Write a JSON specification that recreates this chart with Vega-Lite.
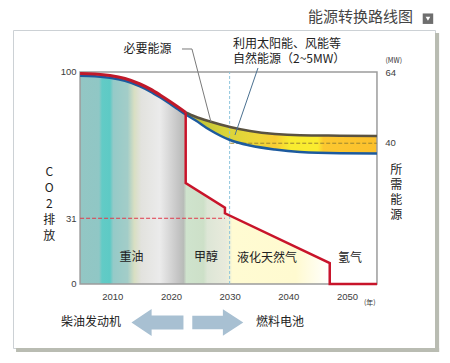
{
  "$schema": "https://vega.github.io/schema/vega-lite/v6.json",
  "width": 422,
  "height": 318,
  "autosize": {"type": "none"},
  "padding": {"left": 13, "top": 30, "right": 15, "bottom": 15},
  "background": "white",
  "config": {
    "view": {"stroke": "#ccd1d5", "strokeWidth": 1},
    "font": "Liberation Sans",
    "axis": {"grid": false, "ticks": false, "domain": false, "labelFont": "Liberation Sans", "labelFontSize": 9.5, "labelColor": "#3c3c3c", "labelOverlap": false}
  },
  "datasets": {
    "shadow": [
      {"x": 2065.0, "x2": 2065.7, "y": 118.4, "y2": -32.08},
      {"x": 1993.6, "x2": 2065.7, "y": -30.19, "y2": -32.08}
    ],
    "fill": [
      {"x": 2004.51, "y": 98.2},
      {"x": 2007.05, "y": 97.98},
      {"x": 2009.61, "y": 97.27},
      {"x": 2012.16, "y": 95.85},
      {"x": 2014.72, "y": 93.26},
      {"x": 2016.43, "y": 90.9},
      {"x": 2018.13, "y": 88.07},
      {"x": 2019.83, "y": 85.0},
      {"x": 2021.2, "y": 82.41},
      {"x": 2022.5, "y": 79.95},
      {"x": 2022.52, "y": 47.6},
      {"x": 2029.2, "y": 36.0},
      {"x": 2029.22, "y": 33.35},
      {"x": 2047.06, "y": 9.9},
      {"x": 2047.08, "y": 0}
    ],
    "band": [
      {"x": 2022.51, "y": 79.95, "y2": 80.9},
      {"x": 2024.09, "y": 77.36, "y2": 79.01},
      {"x": 2026.65, "y": 72.64, "y2": 76.65},
      {"x": 2030.06, "y": 67.92, "y2": 74.06},
      {"x": 2033.47, "y": 65.33, "y2": 72.17},
      {"x": 2037.73, "y": 63.44, "y2": 70.75},
      {"x": 2041.99, "y": 62.26, "y2": 70.14},
      {"x": 2048.8, "y": 61.65, "y2": 69.95},
      {"x": 2055.11, "y": 61.56, "y2": 69.81}
    ],
    "blue": [
      {"x": 2004.51, "y": 98.2},
      {"x": 2007.05, "y": 97.98},
      {"x": 2009.61, "y": 97.27},
      {"x": 2012.16, "y": 95.85},
      {"x": 2014.72, "y": 93.26},
      {"x": 2016.43, "y": 90.9},
      {"x": 2018.13, "y": 88.07},
      {"x": 2019.83, "y": 85.0},
      {"x": 2021.2, "y": 82.41},
      {"x": 2022.51, "y": 79.95},
      {"x": 2024.09, "y": 77.36},
      {"x": 2026.65, "y": 72.64},
      {"x": 2030.06, "y": 67.92},
      {"x": 2033.47, "y": 65.33},
      {"x": 2037.73, "y": 63.44},
      {"x": 2041.99, "y": 62.26},
      {"x": 2048.8, "y": 61.65},
      {"x": 2055.11, "y": 61.56}
    ],
    "upper": [
      {"x": 2022.51, "y": 80.9},
      {"x": 2024.09, "y": 79.01},
      {"x": 2026.65, "y": 76.65},
      {"x": 2030.06, "y": 74.06},
      {"x": 2033.47, "y": 72.17},
      {"x": 2037.73, "y": 70.75},
      {"x": 2041.99, "y": 70.14},
      {"x": 2048.8, "y": 69.95},
      {"x": 2055.11, "y": 69.81}
    ],
    "redcurve": [
      {"x": 2004.51, "y": 99.29},
      {"x": 2007.05, "y": 99.06},
      {"x": 2009.61, "y": 98.35},
      {"x": 2012.16, "y": 96.93},
      {"x": 2014.72, "y": 94.34},
      {"x": 2016.43, "y": 91.98},
      {"x": 2018.13, "y": 89.15},
      {"x": 2019.83, "y": 86.08},
      {"x": 2021.2, "y": 83.49},
      {"x": 2022.51, "y": 80.9}
    ],
    "redsteps": [
      {"i": 1, "x": 2022.51, "y": 80.9},
      {"i": 2, "x": 2022.51, "y": 47.6},
      {"i": 3, "x": 2029.2, "y": 36.0},
      {"i": 4, "x": 2029.2, "y": 33.35},
      {"i": 5, "x": 2047.06, "y": 9.9},
      {"i": 6, "x": 2047.06, "y": 0},
      {"i": 7, "x": 2055.11, "y": 0}
    ],
    "frame": [{"x": 2004.51, "x2": 2055.11, "y": 0, "y2": 100}],
    "vline": [{"x": 2030.0, "y": 0, "y2": 100}],
    "co2line": [{"x": 2004.51, "x2": 2029.2, "y": 31}],
    "bandline": [{"x": 2030.1, "x2": 2055.11, "y": 66.4}],
    "leader1": [
      {"x": 2021.88, "y": 110.85, "x2": 2023.58, "y2": 110.85},
      {"x": 2023.58, "y": 110.85, "x2": 2026.82, "y2": 76.42}
    ],
    "leader2": [{"x": 2034.83, "y": 101.89, "x2": 2030.91, "y2": 70.28}],
    "labelsCenter": [
      {"t": "必要能源", "x": 2016.0, "y": 111.08},
      {"t": "重油", "x": 2013.27, "y": 12.5},
      {"t": "甲醇", "x": 2025.97, "y": 12.5},
      {"t": "液化天然气", "x": 2036.37, "y": 12.26},
      {"t": "氢气", "x": 2050.51, "y": 12.26},
      {"t": "柴油发动机", "x": 2006.37, "y": -17.78},
      {"t": "燃料电池", "x": 2038.58, "y": -17.78}
    ],
    "labelsLeft": [
      {"t": "利用太阳能、风能等", "x": 2030.57, "y": 113.44},
      {"t": "自然能源（2~5MW）", "x": 2030.57, "y": 105.9}
    ],
    "co2title": [{"t": "C\nO\n2\n排\n放", "x": 1999.26, "y": 52.97}],
    "mwtitle": [{"t": "所\n需\n能\n源", "x": 2058.4, "y": 53.77}],
    "units": [
      {"t": "(MW)", "x": 2056.56, "y": 105.0},
      {"t": "(年)", "x": 2052.9, "y": -8.82}
    ],
    "rightTicks": [
      {"t": "64", "x": 2056.56, "y": 99.76},
      {"t": "40", "x": 2056.5, "y": 66.5}
    ],
    "title": [{"t": "能源转换路线图", "x": 2061.26, "y": 125.94}],
    "checkbox": [{"x": 2063.8, "y": 125.14}],
    "arrowLeft": [{"x": 2017.7, "y": -18.16}],
    "arrowRight": [{"x": 2027.98, "y": -18.16}]
  },
  "encoding": {
    "x": {"field": "x", "type": "quantitative", "scale": {"domain": [1993.08, 2065.0], "nice": false, "zero": false}, "axis": {"values": [2010, 2020, 2030, 2040, 2050], "format": "d", "offset": -64, "labelPadding": 7, "title": null}},
    "y": {"field": "y", "type": "quantitative", "scale": {"domain": [-30.19, 119.81], "nice": false, "zero": false}, "axis": {"values": [0, 31, 100], "offset": -67, "labelPadding": 4, "title": null}}
  },
  "layer": [
    {"data": {"name": "shadow"}, "mark": {"type": "rect", "color": "#b9bcb2"}, "encoding": {"x2": {"field": "x2"}, "y2": {"field": "y2"}}},
    {"data": {"name": "fill"}, "mark": {"type": "area", "color": {"gradient": "linear", "x1": 0, "y1": 0, "x2": 1, "y2": 0, "stops": [
      {"offset": 0, "color": "#93c6c4"},
      {"offset": 0.076, "color": "#90c7c5"},
      {"offset": 0.088, "color": "#62cbc6"},
      {"offset": 0.12, "color": "#5ecac5"},
      {"offset": 0.133, "color": "#95cac8"},
      {"offset": 0.19, "color": "#a3cdc8"},
      {"offset": 0.217, "color": "#d8dfc2"},
      {"offset": 0.245, "color": "#e2e2de"},
      {"offset": 0.32, "color": "#ebebeb"},
      {"offset": 0.394, "color": "#c4c4c4"},
      {"offset": 0.414, "color": "#b8bcb8"},
      {"offset": 0.426, "color": "#cfe3cd"},
      {"offset": 0.494, "color": "#cde0c8"},
      {"offset": 0.51, "color": "#dde6d6"},
      {"offset": 0.582, "color": "#e8eadc"},
      {"offset": 0.598, "color": "#eef0d8"},
      {"offset": 0.61, "color": "#fffbd2"},
      {"offset": 0.863, "color": "#fffad0"},
      {"offset": 1, "color": "#ffffff"}
    ]}}, "encoding": {"y2": {"datum": 0}}},
    {"data": {"name": "band"}, "mark": {"type": "area", "interpolate": "monotone", "color": {"gradient": "linear", "x1": 0, "y1": 0, "x2": 1, "y2": 0, "stops": [
      {"offset": 0, "color": "#a0a040"},
      {"offset": 0.075, "color": "#c4c438"},
      {"offset": 0.205, "color": "#d8d43a"},
      {"offset": 0.378, "color": "#eed638"},
      {"offset": 0.467, "color": "#f8cc34"},
      {"offset": 0.545, "color": "#f8ec30"},
      {"offset": 0.69, "color": "#fbec30"},
      {"offset": 0.72, "color": "#fcc830"},
      {"offset": 1, "color": "#fcc02c"}
    ]}}, "encoding": {"y2": {"field": "y2"}}},
    {"data": {"name": "frame"}, "mark": {"type": "rect", "fill": "white", "fillOpacity": 0, "stroke": "#9c9c9c", "strokeWidth": 1.5}, "encoding": {"x2": {"field": "x2"}, "y2": {"field": "y2"}}},
    {"data": {"name": "vline"}, "mark": {"type": "rule", "color": "#8cc4dc", "strokeWidth": 1, "strokeDash": [3, 2]}, "encoding": {"y2": {"field": "y2"}}},
    {"data": {"name": "co2line"}, "mark": {"type": "rule", "color": "#e03a4c", "strokeWidth": 1, "strokeDash": [4, 2]}, "encoding": {"x2": {"field": "x2"}}},
    {"data": {"name": "bandline"}, "mark": {"type": "rule", "color": "#9a8430", "strokeWidth": 1, "strokeDash": [4, 2]}, "encoding": {"x2": {"field": "x2"}}},
    {"data": {"name": "blue"}, "mark": {"type": "line", "interpolate": "monotone", "color": "#1c5a9e", "strokeWidth": 2.5}},
    {"data": {"name": "upper"}, "mark": {"type": "line", "interpolate": "monotone", "color": "#5a5240", "strokeWidth": 2.5}},
    {"data": {"name": "redcurve"}, "mark": {"type": "line", "interpolate": "monotone", "color": "#c0192a", "strokeWidth": 3.2}},
    {"data": {"name": "redsteps"}, "mark": {"type": "line", "color": "#c8142a", "strokeWidth": 2.5, "strokeJoin": "miter"}, "encoding": {"order": {"field": "i", "type": "quantitative"}}},
    {"data": {"name": "leader1"}, "mark": {"type": "rule", "color": "#7a7a7a", "strokeWidth": 1}, "encoding": {"x2": {"field": "x2"}, "y2": {"field": "y2"}}},
    {"data": {"name": "leader2"}, "mark": {"type": "rule", "color": "#4a7090", "strokeWidth": 1}, "encoding": {"x2": {"field": "x2"}, "y2": {"field": "y2"}}},
    {"data": {"name": "labelsCenter"}, "mark": {"type": "text", "font": "Noto Sans CJK SC", "fontSize": 12, "color": "#222222", "align": "center", "baseline": "middle"}, "encoding": {"text": {"field": "t"}}},
    {"data": {"name": "labelsLeft"}, "mark": {"type": "text", "font": "Noto Sans CJK SC", "fontSize": 12, "color": "#222222", "align": "left", "baseline": "middle"}, "encoding": {"text": {"field": "t"}}},
    {"data": {"name": "co2title"}, "mark": {"type": "text", "font": "Noto Sans CJK SC", "fontSize": 12, "color": "#222222", "align": "center", "baseline": "middle", "lineBreak": "\n", "lineHeight": 16}, "encoding": {"text": {"field": "t"}}},
    {"data": {"name": "mwtitle"}, "mark": {"type": "text", "font": "Noto Sans CJK SC", "fontSize": 12, "color": "#222222", "align": "center", "baseline": "middle", "lineBreak": "\n", "lineHeight": 15}, "encoding": {"text": {"field": "t"}}},
    {"data": {"name": "units"}, "mark": {"type": "text", "font": "Noto Sans CJK SC", "fontSize": 7, "color": "#333333", "align": "left", "baseline": "middle"}, "encoding": {"text": {"field": "t"}}},
    {"data": {"name": "rightTicks"}, "mark": {"type": "text", "font": "Liberation Sans", "fontSize": 9.5, "color": "#3c3c3c", "align": "left", "baseline": "middle"}, "encoding": {"text": {"field": "t"}}},
    {"data": {"name": "title"}, "mark": {"type": "text", "font": "Noto Sans CJK SC", "fontSize": 15, "color": "#444444", "align": "right", "baseline": "middle"}, "encoding": {"text": {"field": "t"}}},
    {"data": {"name": "checkbox"}, "mark": {"type": "point", "shape": "square", "size": 110, "filled": true, "color": "#6e6e6e", "opacity": 1}},
    {"data": {"name": "checkbox"}, "mark": {"type": "point", "shape": "triangle-down", "size": 22, "filled": true, "color": "#ffffff", "opacity": 1}},
    {"data": {"name": "arrowLeft"}, "mark": {"type": "point", "shape": "M-1,0L-0.225,-0.52L-0.225,-0.265L1,-0.265L1,0.265L-0.225,0.265L-0.225,0.52Z", "size": 2704, "filled": true, "color": "#a8c0d2", "opacity": 1}},
    {"data": {"name": "arrowRight"}, "mark": {"type": "point", "shape": "M1,0L0.2,-0.52L0.2,-0.265L-1,-0.265L-1,0.265L0.2,0.265L0.2,0.52Z", "size": 2601, "filled": true, "color": "#a8c0d2", "opacity": 1}}
  ]
}
